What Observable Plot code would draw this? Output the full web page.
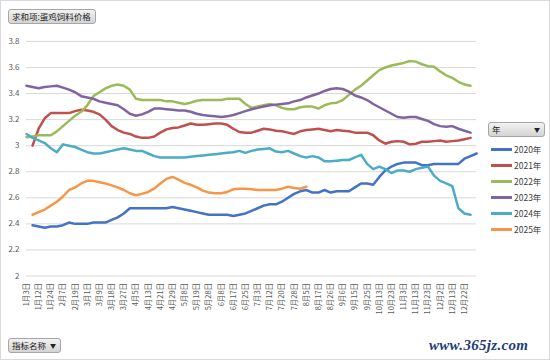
<!DOCTYPE html>
<html>
<head>
<meta charset="utf-8">
<script src="https://cdn.jsdelivr.net/npm/d3@7"></script>
<script src="https://cdn.jsdelivr.net/npm/@observablehq/plot@0.6"></script>
<style>
  html, body { margin: 0; padding: 0; background: #fff; }
  #wrap { position: relative; width: 550px; height: 360px; box-sizing: border-box; border: 1px solid #d9d9d9; overflow: hidden; font-family: "Noto Sans CJK SC", "Noto Sans", sans-serif; }
  #chart { position: absolute; left: -1px; top: -1px; }
  .btn { position: absolute; box-sizing: border-box; height: 15px; border: 1px solid #a6a6a6; border-radius: 3px;
         background: linear-gradient(#f2f2f2, #d4d4d4); color: #222; font-size: 8.5px; line-height: 13px; padding: 0 3px; white-space: nowrap; }
  .arrow { position: absolute; right: 4px; top: 0; font-size: 6px; }
  .leg { position: absolute; left: 490px; font-size: 8.5px; color: #404040; line-height: 10px; }
  .leg i { display: inline-block; width: 21px; height: 2.5px; vertical-align: middle; margin-right: 2px; position: relative; top: -1px; }
  #wm { position: absolute; left: 428px; top: 336px; font-family: "Liberation Serif", serif; font-style: italic; font-weight: bold; font-size: 15px; color: #1f3d7a; letter-spacing: 0.3px; }
</style>
</head>
<body>
<div id="wrap">
  <div id="chart"></div>
  <div class="btn" style="left:7px;top:8px;width:88px;">求和项:蛋鸡饲料价格</div>
  <div class="btn" style="left:7px;top:337px;width:53px;">指标名称<span class="arrow">▼</span></div>
  <div class="btn" style="left:487px;top:121px;width:57px;">年<span class="arrow">▼</span></div>
  <div id="legend"></div>
  <div id="wm">www.365jz.com</div>
</div>
<script>
// Category tick labels (every second category is labelled)
const labels = ["1月3日","1月12日","1月24日","2月7日","2月19日","3月1日","3月9日","3月18日","3月27日","4月5日","4月13日","4月21日","4月29日","5月8日","5月19日","5月28日","6月8日","6月17日","6月25日","7月3日","7月12日","7月20日","7月28日","8月5日","8月17日","8月26日","9月6日","9月15日","9月25日","10月13日","10月23日","11月3日","11月13日","11月23日","12月2日","12月13日","12月22日"];
const years = ["2020年","2021年","2022年","2023年","2024年","2025年"];
const yTicks = [2, 2.2, 2.4, 2.6, 2.8, 3, 3.2, 3.4, 3.6, 3.8];

const s2020 = [null,2.39,2.38,2.37,2.38,2.38,2.39,2.41,2.40,2.40,2.40,2.41,2.41,2.41,2.43,2.45,2.48,2.52,2.52,2.52,2.52,2.52,2.52,2.52,2.53,2.52,2.51,2.50,2.49,2.48,2.47,2.47,2.47,2.47,2.46,2.47,2.48,2.50,2.52,2.54,2.55,2.55,2.57,2.60,2.63,2.65,2.66,2.64,2.64,2.66,2.64,2.65,2.65,2.65,2.68,2.71,2.71,2.70,2.76,2.81,2.84,2.86,2.87,2.87,2.87,2.85,2.85,2.86,2.86,2.86,2.86,2.86,2.90,2.92,2.94];
const s2021 = [null,3.00,3.13,3.21,3.25,3.25,3.25,3.25,3.265,3.275,3.27,3.26,3.24,3.20,3.15,3.12,3.10,3.09,3.07,3.06,3.06,3.07,3.10,3.125,3.135,3.14,3.155,3.17,3.16,3.16,3.165,3.17,3.17,3.16,3.13,3.105,3.10,3.10,3.115,3.13,3.125,3.115,3.11,3.10,3.09,3.11,3.12,3.125,3.13,3.12,3.11,3.12,3.115,3.11,3.10,3.10,3.10,3.08,3.04,3.015,3.03,3.035,3.03,3.01,3.015,3.03,3.03,3.035,3.04,3.03,3.035,3.04,3.05,3.06,null];
const s2022 = [3.065,3.07,3.08,3.08,3.08,3.11,3.15,3.19,3.23,3.26,3.31,3.38,3.41,3.44,3.46,3.47,3.46,3.43,3.36,3.35,3.35,3.35,3.35,3.34,3.34,3.33,3.32,3.33,3.345,3.35,3.35,3.35,3.35,3.36,3.36,3.36,3.32,3.29,3.30,3.31,3.32,3.31,3.29,3.28,3.28,3.295,3.30,3.30,3.285,3.31,3.325,3.33,3.35,3.39,3.43,3.46,3.50,3.54,3.58,3.60,3.615,3.625,3.635,3.65,3.645,3.625,3.61,3.605,3.57,3.54,3.52,3.49,3.47,3.46,null];
const s2023 = [3.46,3.45,3.44,3.45,3.455,3.46,3.445,3.43,3.41,3.38,3.37,3.36,3.34,3.33,3.32,3.31,3.28,3.245,3.23,3.24,3.26,3.285,3.285,3.28,3.275,3.27,3.27,3.26,3.245,3.235,3.23,3.225,3.22,3.225,3.235,3.25,3.265,3.28,3.29,3.30,3.31,3.315,3.32,3.325,3.34,3.35,3.37,3.385,3.40,3.42,3.435,3.44,3.435,3.415,3.385,3.37,3.35,3.32,3.295,3.27,3.245,3.22,3.215,3.22,3.22,3.205,3.19,3.165,3.15,3.145,3.15,3.13,3.115,3.10,null];
const s2024 = [3.09,3.06,3.04,3.02,2.98,2.95,3.01,3.00,2.99,2.97,2.95,2.94,2.94,2.95,2.96,2.97,2.98,2.97,2.96,2.96,2.94,2.92,2.91,2.91,2.91,2.91,2.91,2.915,2.92,2.925,2.93,2.935,2.94,2.945,2.95,2.96,2.945,2.96,2.97,2.975,2.98,2.955,2.95,2.96,2.94,2.92,2.91,2.92,2.91,2.88,2.88,2.885,2.89,2.89,2.91,2.93,2.86,2.82,2.84,2.82,2.79,2.81,2.81,2.80,2.82,2.83,2.84,2.77,2.73,2.71,2.69,2.52,2.48,2.47,null];
const s2025 = [null,2.47,2.49,2.51,2.54,2.57,2.61,2.66,2.68,2.71,2.73,2.73,2.72,2.71,2.695,2.68,2.66,2.635,2.62,2.63,2.645,2.67,2.71,2.745,2.76,2.74,2.715,2.70,2.68,2.655,2.64,2.635,2.635,2.645,2.665,2.67,2.67,2.665,2.66,2.66,2.66,2.66,2.67,2.685,2.675,2.67,2.685];

const series = [s2020, s2021, s2022, s2023, s2024, s2025];
const colors = ["#4472C4", "#C0504D", "#9BBB59", "#8064A2", "#4BACC6", "#F79646"];
const nCat = s2020.length; // 75 categories

const rows = [];
series.forEach((s, k) => s.forEach((v, i) => { if (v != null) rows.push({i, v, year: years[k]}); }));
const xTicks = labels.map((_, j) => j * 2);

const chart = Plot.plot({
  width: 550, height: 360,
  marginLeft: 26, marginRight: 73, marginTop: 41, marginBottom: 84,
  x: {type: "linear", domain: [0, nCat - 1]},
  y: {domain: [2, 3.8]},
  color: {domain: years, range: colors},
  style: {fontFamily: "'Noto Sans CJK SC', sans-serif", color: "#595959", background: "transparent"},
  marks: [
    Plot.gridY(yTicks, {stroke: "#d9d9d9", strokeOpacity: 1, strokeWidth: 1}),
    Plot.axisY(yTicks, {tickSize: 0, tickPadding: 7, fontSize: 8, tickFormat: d => String(+d.toFixed(1)), label: null}),
    Plot.axisX(xTicks, {tickSize: 0, tickPadding: 7, tickRotate: -90, fontSize: 7.5, tickFormat: i => labels[i / 2], label: null}),
    Plot.line(rows, {x: "i", y: "v", z: "year", stroke: "year", strokeWidth: 2.5, strokeLinejoin: "round", strokeLinecap: "round"})
  ]
});
document.getElementById("chart").appendChild(chart);

const leg = document.getElementById("legend");
const legTops = [143, 159, 175, 191, 207, 223];
years.forEach((y, k) => {
  const d = document.createElement("div");
  d.className = "leg";
  d.style.top = legTops[k] + "px";
  d.innerHTML = `<i style="background:${colors[k]}"></i>${y}`;
  leg.appendChild(d);
});
</script>
</body>
</html>
